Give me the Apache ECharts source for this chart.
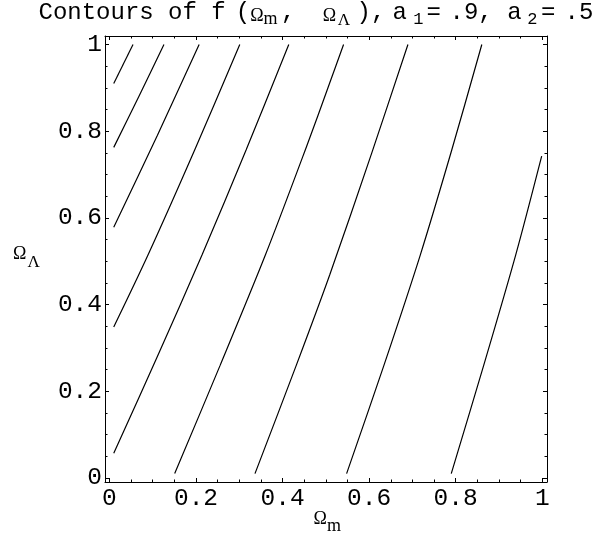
<!DOCTYPE html>
<html>
<head>
<meta charset="utf-8">
<script src="https://cdn.jsdelivr.net/npm/echarts@6/dist/echarts.min.js"></script>
<style>
  html, body { margin: 0; padding: 0; background: #fff; }
  #chart { width: 603px; height: 541px; }
</style>
</head>
<body>
<div id="chart"></div>
<script>
// Axis ticks (values) and their printed labels
const majorTicks = [0, 0.2, 0.4, 0.6, 0.8, 1];
const minorTicks = [0, 0.05, 0.1, 0.15, 0.2, 0.25, 0.3, 0.35, 0.4, 0.45, 0.5,
                    0.55, 0.6, 0.65, 0.7, 0.75, 0.8, 0.85, 0.9, 0.95, 1];
const xTickLabels = ['0', '0.2', '0.4', '0.6', '0.8', '1'];
const yTickLabels = ['0', '0.2', '0.4', '0.6', '0.8', '1'];

// Contour lines of f(Ωm, ΩΛ): each is a list of [Ωm, ΩΛ] points
const contour1 = [[0.010, 0.910], [0.0545, 1.000]];
const contour2 = [[0.010, 0.7626], [0.068, 0.880], [0.126, 1.000]];
const contour3 = [[0.010, 0.578], [0.1107, 0.790], [0.2073, 1.000]];
const contour4 = [[0.010, 0.348], [0.0891, 0.514], [0.1972, 0.757], [0.3012, 1.000]];
const contour5 = [[0.010, 0.0566], [0.1131, 0.285], [0.2139, 0.514], [0.316, 0.757], [0.4144, 1.000]];
const contour6 = [[0.1508, 0.0097], [0.256, 0.260], [0.3603, 0.514], [0.4538, 0.760], [0.5087, 0.9104], [0.541, 1.000]];
const contour7 = [[0.3363, 0.0097], [0.4319, 0.260], [0.5089, 0.468], [0.6062, 0.750], [0.6897, 1.000]];
const contour8 = [[0.548, 0.0097], [0.6344, 0.260], [0.7182, 0.514], [0.7911, 0.757], [0.8604, 1.000]];
const contour9 = [[0.7898, 0.0097], [0.8649, 0.260], [0.9386, 0.514], [0.9987, 0.7425]];
const contours = [contour1, contour2, contour3, contour4, contour5,
                  contour6, contour7, contour8, contour9];

const MONO = "'Liberation Mono', 'Courier New', monospace";
const SERIF = "'Liberation Serif', 'Times New Roman', serif";

// Frame range (a little padding around the unit square)
const X_MIN = -0.0102, X_MAX = 1.011;
const Y_MIN = -0.0097, Y_MAX = 1.0196;

function labelFor(list) {
  return function (v) {
    let best = 0;
    for (let i = 0; i < majorTicks.length; i++) {
      if (Math.abs(majorTicks[i] - v) < Math.abs(majorTicks[best] - v)) best = i;
    }
    return list[best];
  };
}

// One side of the frame: axis line + major ticks (optionally labelled),
// or a companion axis carrying only the minor ticks.
function frameAxis(kind, position, withLabels, minor) {
  const isX = kind === 'x';
  return {
    type: 'value',
    gridIndex: 0,
    position: position,
    min: isX ? X_MIN : Y_MIN,
    max: isX ? X_MAX : Y_MAX,
    axisLine: { show: !minor, onZero: false, lineStyle: { color: '#000', width: 1 } },
    axisTick: {
      show: true,
      inside: true,
      length: minor ? 2.5 : 4,
      customValues: minor ? minorTicks : majorTicks,
      lineStyle: { color: '#000', width: 1 }
    },
    axisLabel: withLabels ? {
      show: true,
      customValues: majorTicks,
      formatter: labelFor(isX ? xTickLabels : yTickLabels),
      fontFamily: MONO,
      fontSize: 24.5,
      color: '#000',
      margin: isX ? 4 : 3
    } : { show: false },
    splitLine: { show: false },
    minorTick: { show: false }
  };
}

const chart = echarts.init(document.getElementById('chart'), null, { renderer: 'canvas' });

chart.setOption({
  animation: false,
  backgroundColor: '#fff',
  grid: { left: 105, top: 36, width: 442, height: 446, containLabel: false },
  xAxis: [
    frameAxis('x', 'bottom', true, false),
    frameAxis('x', 'top', false, false),
    frameAxis('x', 'bottom', false, true),
    frameAxis('x', 'top', false, true)
  ],
  yAxis: [
    frameAxis('y', 'left', true, false),
    frameAxis('y', 'right', false, false),
    frameAxis('y', 'left', false, true),
    frameAxis('y', 'right', false, true)
  ],
  series: contours.map(function (pts, i) {
    return {
      name: 'contour' + (i + 1),
      type: 'line',
      xAxisIndex: 0,
      yAxisIndex: 0,
      data: pts,
      showSymbol: false,
      symbol: 'none',
      smooth: 0.3,
      lineStyle: { color: '#000', width: 1.2 },
      silent: true
    };
  }),
  graphic: [
    {
      // plot title, typeset with Greek symbols and subscripts
      type: 'text',
      x: 38.5,
      y: 13,
      style: {
        text: '{a|Contours of f}{p|(}{g|Ω}{sm|m}{b|, }{g2|Ω}{sl|Λ}{c|),}{d|a}{n1|1}{e1|=}{t|.9, a}{n2|2}{e2|=}{t|.5}',
        verticalAlign: 'middle',
        rich: {
          a:  { fontFamily: MONO, fontSize: 24, fill: '#000' },
          p:  { fontFamily: MONO, fontSize: 24, fill: '#000', padding: [0, 0, 0, 10] },
          g:  { fontFamily: SERIF, fontSize: 18, fill: '#000', padding: [7, 0, 0, 0] },
          sm: { fontFamily: SERIF, fontSize: 18, fill: '#000', padding: [13.4, 3.5, 0, 0] },
          b:  { fontFamily: MONO, fontSize: 24, fill: '#000' },
          g2: { fontFamily: SERIF, fontSize: 18, fill: '#000', padding: [7, 0, 0, 13] },
          sl: { fontFamily: SERIF, fontSize: 17, fill: '#000', padding: [14.8, 6.5, 0, 1.5] },
          c:  { fontFamily: MONO, fontSize: 24, fill: '#000' },
          d:  { fontFamily: MONO, fontSize: 24, fill: '#000', padding: [0, 0, 0, 7.2] },
          n1: { fontFamily: MONO, fontSize: 17, fill: '#000', padding: [12, 3.2, 0, 6.2] },
          e1: { fontFamily: MONO, fontSize: 24, fill: '#000', padding: [0, 8.6, 0, 0] },
          t:  { fontFamily: MONO, fontSize: 24, fill: '#000' },
          n2: { fontFamily: MONO, fontSize: 17, fill: '#000', padding: [12, 3.7, 0, 5.6] },
          e2: { fontFamily: MONO, fontSize: 24, fill: '#000', padding: [0, 9.1, 0, 0] }
        }
      }
    },
    {
      // horizontal axis name
      type: 'text',
      x: 313.5,
      y: 519,
      style: {
        text: '{g|Ω}{s|m}',
        align: 'left',
        verticalAlign: 'middle',
        rich: {
          g: { fontFamily: SERIF, fontSize: 18, fill: '#000' },
          s: { fontFamily: SERIF, fontSize: 18, fill: '#000', padding: [15.4, 0, 0, 0] }
        }
      }
    },
    {
      // vertical axis name
      type: 'text',
      x: 13,
      y: 254,
      style: {
        text: '{g|Ω}{s|Λ}',
        align: 'left',
        verticalAlign: 'middle',
        rich: {
          g: { fontFamily: SERIF, fontSize: 18, fill: '#000' },
          s: { fontFamily: SERIF, fontSize: 17, fill: '#000', padding: [16.8, 0, 0, 1] }
        }
      }
    }
  ]
});
</script>
</body>
</html>
